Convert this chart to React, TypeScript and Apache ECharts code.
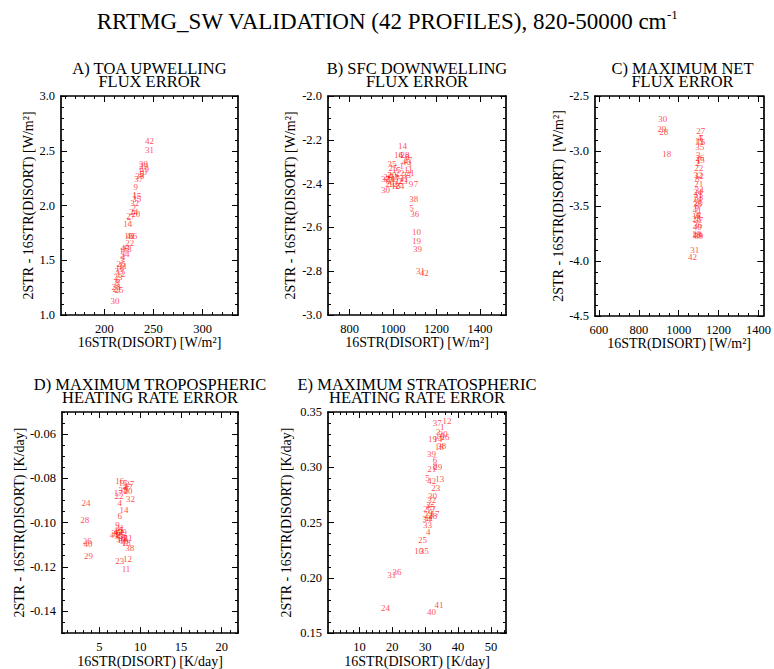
import React, { useEffect, useRef } from 'react';
import * as echarts from 'echarts';

// ---------------- DATA ----------------
// Panel A: TOA upwelling flux error
const A_IDS = [42,31,39,29,19,10,5,38,37,9,1,15,35,32,2,24,20,27,7,14,16,41,36,22,40,13,17,34,4,3,26,11,18,33,12,23,6,8,28,21,25,30];
const A_X = [246,246,240,240,241,239,238,236,235,232,231,233,233,231,230,230,232,227,225,224,225,227,229,226,221,223,220,221,219,218,217,219,216,215,217,214,214,213,212,213,215,211];
const A_Y = [2.59,2.51,2.38,2.36,2.33,2.31,2.29,2.27,2.24,2.165,2.10,2.09,2.06,2.02,1.98,1.94,1.92,1.905,1.85,1.835,1.72,1.72,1.72,1.66,1.61,1.60,1.58,1.56,1.53,1.50,1.47,1.45,1.43,1.40,1.37,1.35,1.32,1.29,1.26,1.24,1.23,1.13];
const A_X_TICKS = [200, 250, 300];
const A_Y_TICKS = [1.0, 1.5, 2.0, 2.5, 3.0];

// Panel B: SFC downwelling flux error
const B_IDS = [14,16,4,28,8,27,40,3,35,25,1,15,11,21,33,22,2,20,26,13,34,6,17,32,12,29,23,24,41,37,18,30,9,7,38,5,36,10,19,39,31,42];
const B_X = [1043,1025,1035,1055,1065,1068,1060,1075,995,1000,1040,1015,1070,1078,1062,1030,985,995,975,1005,988,975,1010,1025,1000,985,1045,1030,1050,965,1012,965,1082,1105,1095,1085,1100,1108,1108,1112,1126,1143];
const B_Y = [-2.23,-2.27,-2.27,-2.27,-2.28,-2.29,-2.30,-2.31,-2.31,-2.33,-2.32,-2.34,-2.34,-2.35,-2.36,-2.35,-2.36,-2.36,-2.37,-2.37,-2.38,-2.39,-2.38,-2.39,-2.40,-2.40,-2.39,-2.41,-2.38,-2.38,-2.41,-2.43,-2.40,-2.40,-2.47,-2.51,-2.54,-2.62,-2.66,-2.70,-2.80,-2.81];
const B_X_TICKS = [800, 1000, 1200, 1400];
const B_Y_TICKS = [-3.0, -2.8, -2.6, -2.4, -2.2, -2.0];

// Panel C: maximum net flux error
const C_IDS = [30,29,28,18,27,4,7,13,16,35,3,26,1,15,2,22,32,12,8,21,24,11,33,14,20,38,41,17,5,37,25,36,40,10,19,39,23,6,9,34,31,42];
const C_X = [920,915,925,940,1110,1105,1112,1103,1110,1105,1098,1105,1100,1108,1095,1100,1098,1103,1093,1100,1095,1098,1100,1093,1098,1093,1093,1090,1098,1100,1090,1095,1093,1088,1095,1100,1092,1098,1090,1103,1080,1069];
const C_Y = [-2.71,-2.80,-2.83,-3.03,-2.82,-2.88,-2.88,-2.91,-2.92,-2.96,-3.04,-3.06,-3.09,-3.08,-3.11,-3.15,-3.22,-3.23,-3.25,-3.30,-3.37,-3.40,-3.42,-3.44,-3.47,-3.48,-3.54,-3.59,-3.61,-3.63,-3.62,-3.67,-3.69,-3.76,-3.76,-3.77,-3.75,-3.58,-3.52,-3.35,-3.90,-3.96];
const C_X_TICKS = [600, 800, 1000, 1200, 1400];
const C_Y_TICKS = [-4.5, -4.0, -3.5, -3.0, -2.5];

// Panel D: maximum tropospheric heating rate error
const D_IDS = [24,28,26,40,29,16,15,27,2,37,35,8,20,17,22,32,4,14,6,9,31,5,10,39,41,3,25,33,34,21,7,36,30,19,1,18,13,38,23,12,11,42];
const D_X = [3.35,3.2,3.5,3.6,3.65,7.5,7.9,8.7,8.1,8.5,7.9,8.3,8.5,7.3,7.4,8.8,7.5,8.0,7.5,7.2,7.5,7.7,7.3,7.8,6.8,7.1,7.6,7.4,7.9,8.5,8.1,7.0,7.6,8.0,8.0,8.3,7.7,8.7,7.5,8.45,8.25,7.3];
const D_Y = [-0.091,-0.099,-0.1085,-0.1095,-0.1153,-0.081,-0.082,-0.0827,-0.0835,-0.084,-0.0852,-0.0855,-0.0857,-0.0866,-0.0881,-0.0893,-0.0911,-0.0941,-0.0971,-0.1011,-0.1025,-0.1035,-0.104,-0.1045,-0.1056,-0.1052,-0.1058,-0.1063,-0.1068,-0.1068,-0.107,-0.1048,-0.1075,-0.1085,-0.1091,-0.1092,-0.1078,-0.1117,-0.1173,-0.1165,-0.121,-0.1044];
const D_X_TICKS = [5, 10, 15, 20];
const D_Y_TICKS = [-0.14, -0.12, -0.10, -0.08, -0.06];

// Panel E: maximum stratospheric heating rate error
const E_IDS = [12,37,1,3,20,16,26,19,14,38,18,39,6,29,8,21,5,42,13,23,30,32,2,15,27,7,9,17,22,11,28,34,33,4,25,10,35,31,36,24,41,40];
const E_X = [36.6,33.7,35.2,34.0,35.5,34.5,36.0,32.2,33.8,35.0,34.3,31.9,33.0,33.8,33.0,32.0,30.7,32.0,34.4,33.2,32.2,32.0,31.0,31.5,30.8,32.5,31.5,33.0,30.9,31.2,32.3,30.5,30.7,30.9,29.2,28.0,29.7,19.8,21.4,17.9,34.2,31.9];
const E_Y = [0.342,0.340,0.336,0.332,0.330,0.328,0.327,0.3255,0.326,0.319,0.318,0.312,0.307,0.300,0.301,0.298,0.290,0.288,0.289,0.281,0.274,0.270,0.266,0.264,0.262,0.262,0.259,0.258,0.257,0.254,0.2555,0.253,0.248,0.241,0.234,0.2245,0.2245,0.203,0.2055,0.173,0.175,0.1695];
const E_X_TICKS = [10, 20, 30, 40, 50];
const E_Y_TICKS = [0.15, 0.20, 0.25, 0.30, 0.35];

const MAIN_TITLE = 'RRTMG_SW VALIDATION (42 PROFILES), 820-50000 cm';
const MAIN_TITLE_SUP = '-1';

// ---------------- LAYOUT / STYLE ----------------
const FONT = "'Liberation Serif', 'DejaVu Serif', serif";

type Panel = {
  title: string;
  ids: number[]; xs: number[]; ys: number[];
  grid: { left: number; top: number; width: number; height: number };
  xMin: number; xMax: number; xTicks: number[]; xMinorStep: number; xDec: number;
  yMin: number; yMax: number; yTicks: number[]; yMinorStep: number; yDec: number;
  xName: string; yName: string; yNameGap: number;
};

const PANELS: Panel[] = [
  { title: 'A) TOA UPWELLING\nFLUX ERROR', ids: A_IDS, xs: A_X, ys: A_Y,
    grid: { left: 61, top: 96, width: 177, height: 219 },
    xMin: 156, xMax: 336, xTicks: A_X_TICKS, xMinorStep: 10, xDec: 0,
    yMin: 1, yMax: 3, yTicks: A_Y_TICKS, yMinorStep: 0.1, yDec: 1,
    xName: '16STR(DISORT) [W/m²]', yName: '2STR - 16STR(DISORT) [W/m²]', yNameGap: 24 },
  { title: 'B) SFC DOWNWELLING\nFLUX ERROR', ids: B_IDS, xs: B_X, ys: B_Y,
    grid: { left: 328, top: 96, width: 178, height: 219 },
    xMin: 700, xMax: 1520, xTicks: B_X_TICKS, xMinorStep: 50, xDec: 0,
    yMin: -3, yMax: -2, yTicks: B_Y_TICKS, yMinorStep: 0.05, yDec: 1,
    xName: '16STR(DISORT) [W/m²]', yName: '2STR - 16STR(DISORT) [W/m²]', yNameGap: 31 },
  { title: 'C) MAXIMUM NET\nFLUX ERROR', ids: C_IDS, xs: C_X, ys: C_Y,
    grid: { left: 595, top: 96, width: 175, height: 220 },
    xMin: 580, xMax: 1424, xTicks: C_X_TICKS, xMinorStep: 50, xDec: 0,
    yMin: -4.5, yMax: -2.5, yTicks: C_Y_TICKS, yMinorStep: 0.1, yDec: 1,
    xName: '16STR(DISORT) [W/m²]', yName: '2STR - 16STR(DISORT)  [W/m²]', yNameGap: 29 },
  { title: 'D) MAXIMUM TROPOSPHERIC\nHEATING RATE ERROR', ids: D_IDS, xs: D_X, ys: D_Y,
    grid: { left: 62, top: 412, width: 176, height: 223 },
    xMin: 0.4, xMax: 22, xTicks: D_X_TICKS, xMinorStep: 1, xDec: 0,
    yMin: -0.15, yMax: -0.05, yTicks: D_Y_TICKS, yMinorStep: 0.005, yDec: 2,
    xName: '16STR(DISORT) [K/day]', yName: '2STR - 16STR(DISORT) [K/day]', yNameGap: 34 },
  { title: 'E) MAXIMUM STRATOSPHERIC\nHEATING RATE ERROR', ids: E_IDS, xs: E_X, ys: E_Y,
    grid: { left: 328, top: 412, width: 178, height: 223 },
    xMin: 0.4, xMax: 54.6, xTicks: E_X_TICKS, xMinorStep: 2, xDec: 0,
    yMin: 0.15, yMax: 0.35, yTicks: E_Y_TICKS, yMinorStep: 0.01, yDec: 2,
    xName: '16STR(DISORT) [K/day]', yName: '2STR - 16STR(DISORT) [K/day]', yNameGap: 35 },
];

function stepValues(min: number, max: number, step: number, majors: number[]): number[] {
  const out: number[] = [];
  const start = Math.ceil(min / step - 1e-9);
  for (let k = start; k * step <= max + 1e-9; k++) {
    const v = +(k * step).toFixed(6);
    if (!majors.some((m) => Math.abs(m - v) < step * 1e-3)) out.push(v);
  }
  return out;
}

function makeAxis(o: {
  gridIndex: number; position: string; min: number; max: number; values: number[];
  tickLen: number; line: boolean; labels: boolean; dec: number; isY: boolean;
  name?: string; nameGap?: number;
}) {
  const ax: any = {
    type: 'value', gridIndex: o.gridIndex, position: o.position, min: o.min, max: o.max,
    axisLine: { show: o.line, onZero: false, lineStyle: { color: '#000', width: 1.7 } },
    axisTick: { show: true, inside: true, length: o.tickLen, customValues: o.values, lineStyle: { color: '#000', width: 1 } },
    axisLabel: o.labels
      ? { show: true, customValues: o.values, formatter: (v: number) => v.toFixed(o.dec), margin: o.isY ? 6 : 7,
          color: '#000', fontSize: 12.5, fontFamily: FONT }
      : { show: false },
    splitLine: { show: false },
    minorTick: { show: false },
  };
  if (o.name) {
    ax.name = o.name;
    ax.nameLocation = 'middle';
    ax.nameGap = o.nameGap;
    if (o.isY) ax.nameRotate = 90;
    ax.nameTextStyle = { color: '#000', fontSize: 14, fontFamily: FONT };
  }
  return ax;
}

function buildOption() {
  const grids: any[] = [];
  const xAxes: any[] = [];
  const yAxes: any[] = [];
  const series: any[] = [];
  const graphic: any[] = [];

  PANELS.forEach((p, gi) => {
    grids.push({ ...p.grid, containLabel: false });
    const xMinor = stepValues(p.xMin, p.xMax, p.xMinorStep, p.xTicks);
    const yMinor = stepValues(p.yMin, p.yMax, p.yMinorStep, p.yTicks);
    const base = xAxes.length;
    const common = { gridIndex: gi };
    xAxes.push(makeAxis({ ...common, position: 'bottom', min: p.xMin, max: p.xMax, values: p.xTicks, tickLen: 6, line: true, labels: true, dec: p.xDec, isY: false, name: p.xName, nameGap: 20 }));
    xAxes.push(makeAxis({ ...common, position: 'bottom', min: p.xMin, max: p.xMax, values: xMinor, tickLen: 3, line: false, labels: false, dec: 0, isY: false }));
    xAxes.push(makeAxis({ ...common, position: 'top', min: p.xMin, max: p.xMax, values: p.xTicks, tickLen: 6, line: true, labels: false, dec: 0, isY: false }));
    xAxes.push(makeAxis({ ...common, position: 'top', min: p.xMin, max: p.xMax, values: xMinor, tickLen: 3, line: false, labels: false, dec: 0, isY: false }));
    yAxes.push(makeAxis({ ...common, position: 'left', min: p.yMin, max: p.yMax, values: p.yTicks, tickLen: 6, line: true, labels: true, dec: p.yDec, isY: true, name: p.yName, nameGap: p.yNameGap }));
    yAxes.push(makeAxis({ ...common, position: 'left', min: p.yMin, max: p.yMax, values: yMinor, tickLen: 3, line: false, labels: false, dec: 0, isY: true }));
    yAxes.push(makeAxis({ ...common, position: 'right', min: p.yMin, max: p.yMax, values: p.yTicks, tickLen: 6, line: true, labels: false, dec: 0, isY: true }));
    yAxes.push(makeAxis({ ...common, position: 'right', min: p.yMin, max: p.yMax, values: yMinor, tickLen: 3, line: false, labels: false, dec: 0, isY: true }));

    series.push({
      type: 'scatter', xAxisIndex: base, yAxisIndex: base, silent: true,
      symbolSize: 1, itemStyle: { color: 'rgba(0,0,0,0)' },
      emphasis: { disabled: true },
      data: p.ids.map((id, i) => [p.xs[i], p.ys[i], id]),
      label: { show: true, position: 'inside', formatter: (d: any) => String(d.data[2]),
        color: '#ff1a1a', fontSize: 9, fontFamily: FONT },
    });

    graphic.push({
      type: 'text', x: p.grid.left + p.grid.width / 2, y: p.grid.top - 21,
      style: { text: p.title, align: 'center', verticalAlign: 'middle', fill: '#000',
        fontSize: 16.5, fontFamily: FONT, lineHeight: 12.5 },
    });
  });

  graphic.push({
    type: 'text', x: 387, y: 21,
    style: {
      text: `{m|${MAIN_TITLE}}{s|${MAIN_TITLE_SUP}}`, align: 'center', verticalAlign: 'middle',
      rich: {
        m: { fontSize: 23, fontFamily: FONT, fill: '#000', lineHeight: 26 },
        s: { fontSize: 13, fontFamily: FONT, fill: '#000', verticalAlign: 'top', lineHeight: 14 },
      },
    },
  });

  return { animation: false, backgroundColor: '#fff', grid: grids, xAxis: xAxes, yAxis: yAxes, series, graphic };
}

export default function App() {
  const ref = useRef<HTMLDivElement>(null);
  useEffect(() => {
    document.body.style.margin = '0';
    if (!ref.current) return;
    const chart = echarts.init(ref.current, undefined, { renderer: 'svg' });
    chart.setOption(buildOption() as any);
    return () => chart.dispose();
  }, []);
  return <div ref={ref} style={{ width: 774, height: 669 }} />;
}
